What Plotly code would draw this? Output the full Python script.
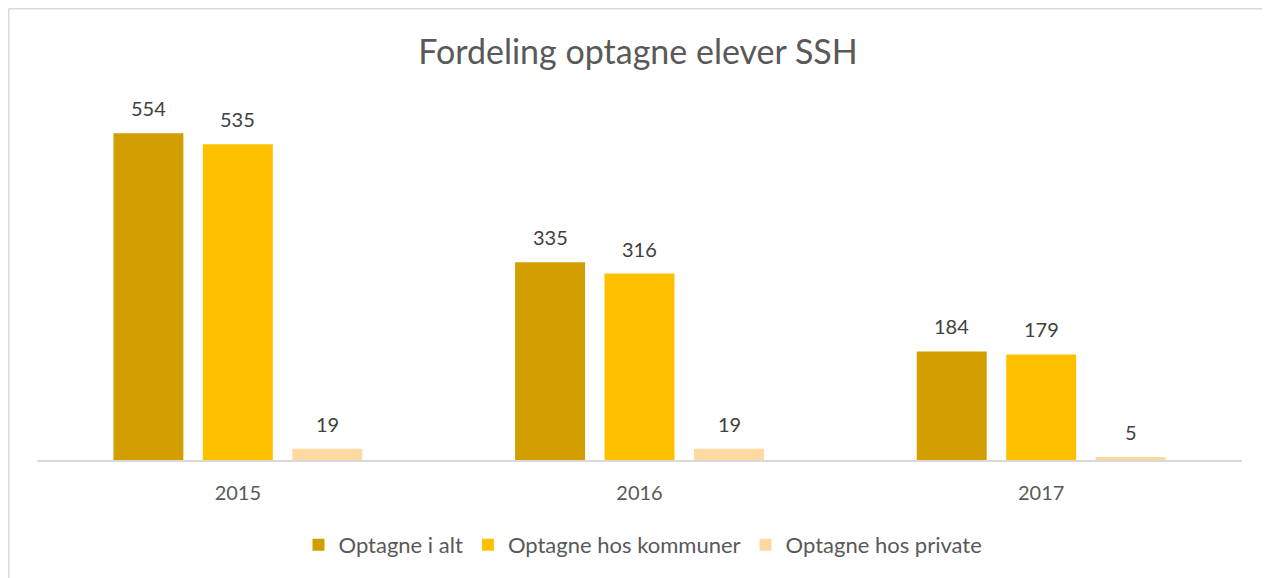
import plotly.graph_objects as go

years = ["2015", "2016", "2017"]
series_names = ["Optagne i alt", "Optagne hos kommuner", "Optagne hos private"]
optagne_i_alt = [554, 335, 184]
optagne_kommuner = [535, 316, 179]
optagne_private = [19, 19, 5]
colors = ["#D39E00", "#FFC000", "#FFD9A0"]

FONT = "Lato, Calibri, Carlito, sans-serif"

# page body has an 8px margin; figure coordinates are window coordinates - 8
W, H = 1270, 578
L, R, T, B = 29, 36, 98, 126
pw, ph = W - L - R, H - T - B

def px2x(px):
    return (px - L) / pw

def py2y(py):
    return (H - B - py) / ph

fig = go.Figure()
all_series = [optagne_i_alt, optagne_kommuner, optagne_private]
for name, vals, col in zip(series_names, all_series, colors):
    fig.add_trace(go.Bar(
        x=years, y=vals, name=name, marker=dict(color=col, line=dict(width=0)),
        cliponaxis=False,
    ))

annotations = []
offsets = [-89.5, 0, 89.5]
for vals, dx in zip(all_series, offsets):
    for i, v in enumerate(vals):
        annotations.append(dict(
            x=i, y=v, xref="x", yref="y", text=str(v), showarrow=False,
            xshift=dx, yshift=25, yanchor="middle", xanchor="center",
            font=dict(size=20, color="#404040", family=FONT),
        ))

border = "#D9D9D9"
shapes = [
    dict(type="line", xref="paper", yref="paper", x0=px2x(0.75), x1=px2x(0.75), y0=py2y(H), y1=py2y(0.75),
         line=dict(color=border, width=1.5)),
    dict(type="line", xref="paper", yref="paper", x0=px2x(0.75), x1=px2x(W), y0=py2y(0.75), y1=py2y(0.75),
         line=dict(color=border, width=1.5)),
]

fig.update_layout(
    width=W, height=H,
    margin=dict(l=L, r=R, t=T, b=B),
    paper_bgcolor="white", plot_bgcolor="white",
    title=dict(text="Fordeling optagne elever SSH", x=(638 - 8) / W, xanchor="center", xref="container",
               y=1 - 44 / H, yanchor="middle", yref="container",
               font=dict(size=34, color="#595959", family=FONT)),
    barmode="group", bargap=0.332, bargroupgap=0.218,
    xaxis=dict(type="category", range=[-0.5, len(years) - 0.5], showgrid=False, showline=True,
               linecolor="#D9D9D9", linewidth=1.5,
               tickfont=dict(size=20, color="#595959", family=FONT), ticks="",
               ticklabelstandoff=14),
    yaxis=dict(range=[0, 600], visible=False, showgrid=False, zeroline=False),
    legend=dict(orientation="h", x=px2x(643 - 8), xanchor="center", y=1 - 537 / H, yanchor="middle",
                yref="container", font=dict(size=22, color="#595959", family=FONT),
                itemwidth=30, tracegroupgap=0),
    shapes=shapes,
    annotations=annotations,
    showlegend=True,
)

fig.write_html("out.html")
